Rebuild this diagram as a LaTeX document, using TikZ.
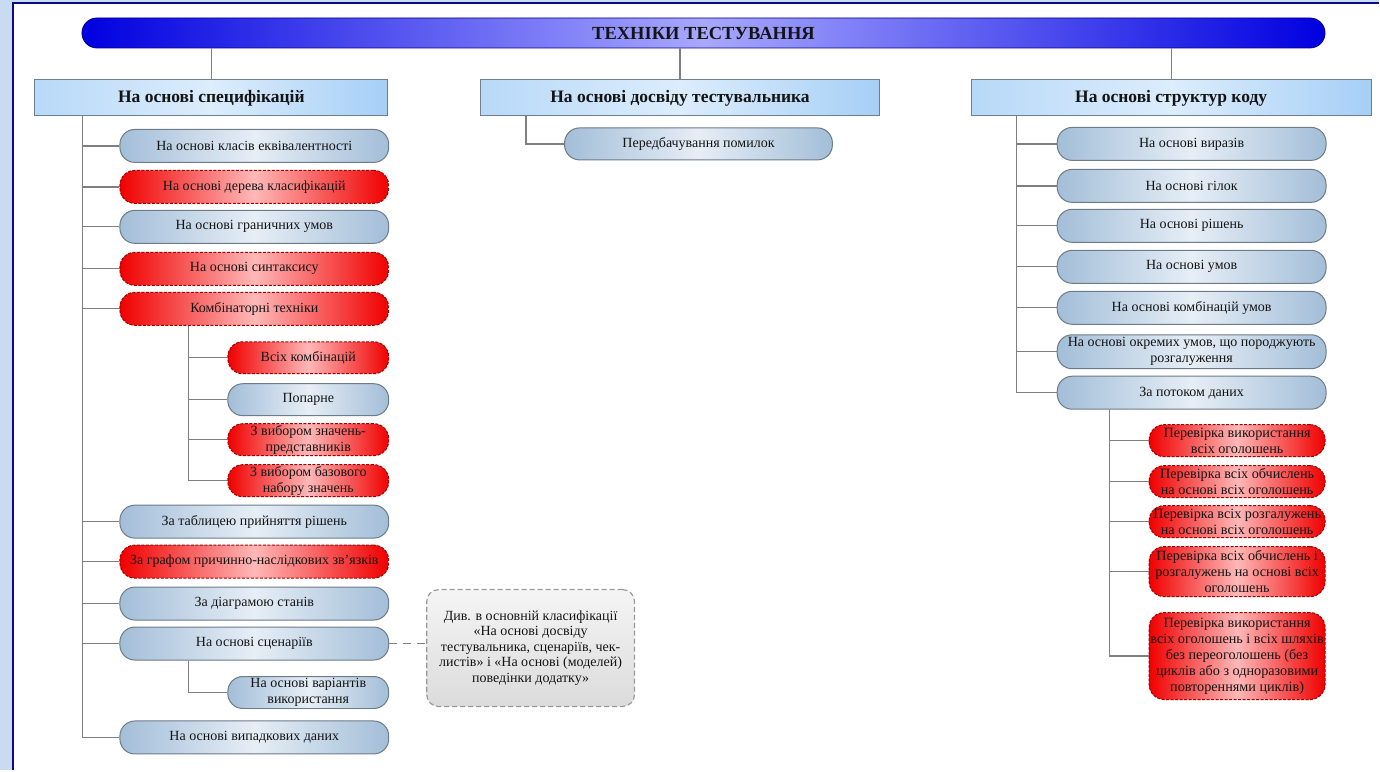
\documentclass[tikz,border=0pt]{standalone}
\usepackage{fontspec}
\setmainfont{Liberation Serif}
\definecolor{bgblue}{HTML}{C9DBF0}
\definecolor{frameblue}{HTML}{0A0A8C}
\definecolor{linegray}{HTML}{7F7F7F}
\definecolor{capedge}{HTML}{A3BED8}
\definecolor{capmid}{HTML}{E6EEF6}
\definecolor{capborder}{HTML}{6E7B88}
\definecolor{catedge}{HTML}{A6CFF6}
\definecolor{catmid}{HTML}{DCEDFC}
\definecolor{catborder}{HTML}{6D7F90}
\definecolor{titleedge}{HTML}{0000E0}
\definecolor{titlemid}{HTML}{A8A8FF}
\definecolor{rededge}{HTML}{F00000}
\definecolor{redmid}{HTML}{FFB8B8}
\definecolor{redborder}{HTML}{A00000}
\definecolor{textdark}{HTML}{141414}
\tikzset{
  conn/.style={draw=linegray, line width=1.3pt},
  titlebar/.style={rectangle, rounded corners=15pt, draw=titleedge!60!black, line width=0.8pt,
    left color=titleedge, right color=titleedge, middle color=titlemid,
    minimum width=1244pt, minimum height=30pt, inner sep=0pt,
    font=\bfseries\fontsize{18.5}{20}\selectfont, text=textdark},
  catbox/.style={rectangle, draw=catborder, line width=1pt,
    left color=catedge!80!white, right color=catedge, middle color=catmid,
    minimum height=36pt, inner sep=0pt,
    font=\bfseries\fontsize{17.5}{20}\selectfont, text=textdark},
  bluecap/.style={rectangle, rounded corners=15pt, draw=capborder, line width=1pt,
    left color=capedge, right color=capedge, middle color=capmid,
    inner sep=0pt, align=center, text=textdark,
    font=\fontsize{14}{16}\selectfont},
  redcap/.style={rectangle, rounded corners=15pt, draw=redborder, line width=1pt,
    dash pattern=on 3pt off 1.5pt,
    left color=rededge, right color=rededge, middle color=redmid,
    inner sep=0pt, align=center, text=textdark,
    font=\fontsize{14}{16}\selectfont},
  bigred/.style={redcap, font=\fontsize{14.2}{16}\selectfont, minimum width=176pt},
  notebox/.style={rectangle, rounded corners=12pt, draw=gray!80, line width=1.2pt,
    dash pattern=on 5pt off 3pt,
    top color=gray!8, bottom color=gray!28,
    inner sep=0pt, align=center, text=textdark,
    font=\fontsize{14}{15.5}\selectfont},
  L/.style={minimum width=269pt, minimum height=33pt},
  LS/.style={minimum width=161pt, minimum height=32pt},
  R/.style={minimum width=269pt, minimum height=33pt},
}
\begin{document}
\begin{tikzpicture}[x=1pt,y=-1pt]
% background and frame
\fill[bgblue] (0,0) rectangle (1380,771);
\fill[white] (13,3) rectangle (1380,771);
\draw[frameblue, line width=2pt] (13,771) -- (13,3) -- (1380,3);
\useasboundingbox (0,0) rectangle (1380,771);

% title
\node[titlebar] (title) at (704,33) {ТЕХНІКИ ТЕСТУВАННЯ};

% categories
\node[catbox, minimum width=353pt] (spec) at (211.5,98) {На основі специфікацій};
\node[catbox, minimum width=399pt] (exp) at (680.5,98) {На основі досвіду тестувальника};
\node[catbox, minimum width=400pt] (struct) at (1172,98) {На основі структур коду};

\draw[conn] (spec.north) -- (spec.north |- title.south);
\draw[conn] (exp.north) -- (exp.north |- title.south);
\draw[conn] (struct.north) -- (struct.north |- title.south);

% left column
\node[bluecap, L] (s1) at (254.5,146) {На основі класів еквівалентності};
\node[redcap, L] (s2) at (254.5,187) {На основі дерева класифікацій};
\node[bluecap, L] (s3) at (254.5,227) {На основі граничних умов};
\node[redcap, L] (s4) at (254.5,269) {На основі синтаксису};
\node[redcap, L] (s5) at (254.5,309) {Комбінаторні техніки};
\node[redcap, LS] (c1) at (308.5,358) {Всіх комбінацій};
\node[bluecap, LS] (c2) at (308.5,400) {Попарне};
\node[redcap, LS] (c3) at (308.5,440) {З вибором значень-\\представників};
\node[redcap, LS] (c4) at (308.5,481) {З вибором базового\\набору значень};
\node[bluecap, L] (s6) at (254.5,522) {За таблицею прийняття рішень};
\node[redcap, L] (s7) at (254.5,562) {За графом причинно-наслідкових зв'язків};
\node[bluecap, L] (s8) at (254.5,604) {За діаграмою станів};
\node[bluecap, L] (s9) at (254.5,644) {На основі сценаріїв};
\node[bluecap, LS] (u1) at (308.5,693) {На основі варіантів\\використання};
\node[bluecap, L] (s10) at (254.5,738) {На основі випадкових даних};

\foreach \n in {s1,s2,s3,s4,s5,s6,s7,s8,s9,s10}
  \draw[conn] ([xshift=48pt]spec.south west) |- (\n.west);
\foreach \n in {c1,c2,c3,c4}
  \draw[conn] ([xshift=69pt]s5.south west) |- (\n.west);
\draw[conn] ([xshift=69pt]s9.south west) |- (u1.west);

% note
\node[notebox, minimum width=208pt, minimum height=117pt] (note) at (531,648.5)
  {Див. в основній класифікації\\«На основі досвіду\\тестувальника, сценаріїв, чек-\\листів» і «На основі (моделей)\\поведінки додатку»};
\draw[conn, dash pattern=on 8pt off 6pt] (s9.east) -- (s9.east -| note.west);

% middle column
\node[bluecap, minimum width=268pt, minimum height=32pt] (m1) at (699,144) {Передбачування помилок};
\draw[conn] ([xshift=46pt]exp.south west) |- (m1.west);

% right column
\node[bluecap, R] (r1) at (1192.5,144) {На основі виразів};
\node[bluecap, R] (r2) at (1192.5,186) {На основі гілок};
\node[bluecap, R] (r3) at (1192.5,226) {На основі рішень};
\node[bluecap, R] (r4) at (1192.5,267) {На основі умов};
\node[bluecap, R] (r5) at (1192.5,308) {На основі комбінацій умов};
\node[bluecap, R, minimum height=34pt] (r6) at (1192.5,352) {На основі окремих умов, що породжують\\розгалуження};
\node[bluecap, R] (r7) at (1192.5,393) {За потоком даних};
\foreach \n in {r1,r2,r3,r4,r5,r6,r7}
  \draw[conn] ([xshift=46pt]struct.south west) |- (\n.west);

\node[bigred, minimum height=32pt] (d1) at (1238,441) {Перевірка використання\\всіх оголошень};
\node[bigred, minimum height=32pt] (d2) at (1238,482) {Перевірка всіх обчислень\\на основі всіх оголошень};
\node[bigred, minimum height=32pt] (d3) at (1238,522) {Перевірка всіх розгалужень\\на основі всіх оголошень};
\node[bigred, minimum height=50pt] (d4) at (1238,572) {Перевірка всіх обчислень і\\розгалужень на основі всіх\\оголошень};
\node[bigred, minimum height=87pt] (d5) at (1238,656.5) {Перевірка використання\\всіх оголошень і всіх шляхів\\без переоголошень (без\\циклів або з одноразовими\\повтореннями циклів)};
\foreach \n in {d1,d2,d3,d4,d5}
  \draw[conn] ([xshift=53pt]r7.south west) |- (\n.west);
\end{tikzpicture}
\end{document}
